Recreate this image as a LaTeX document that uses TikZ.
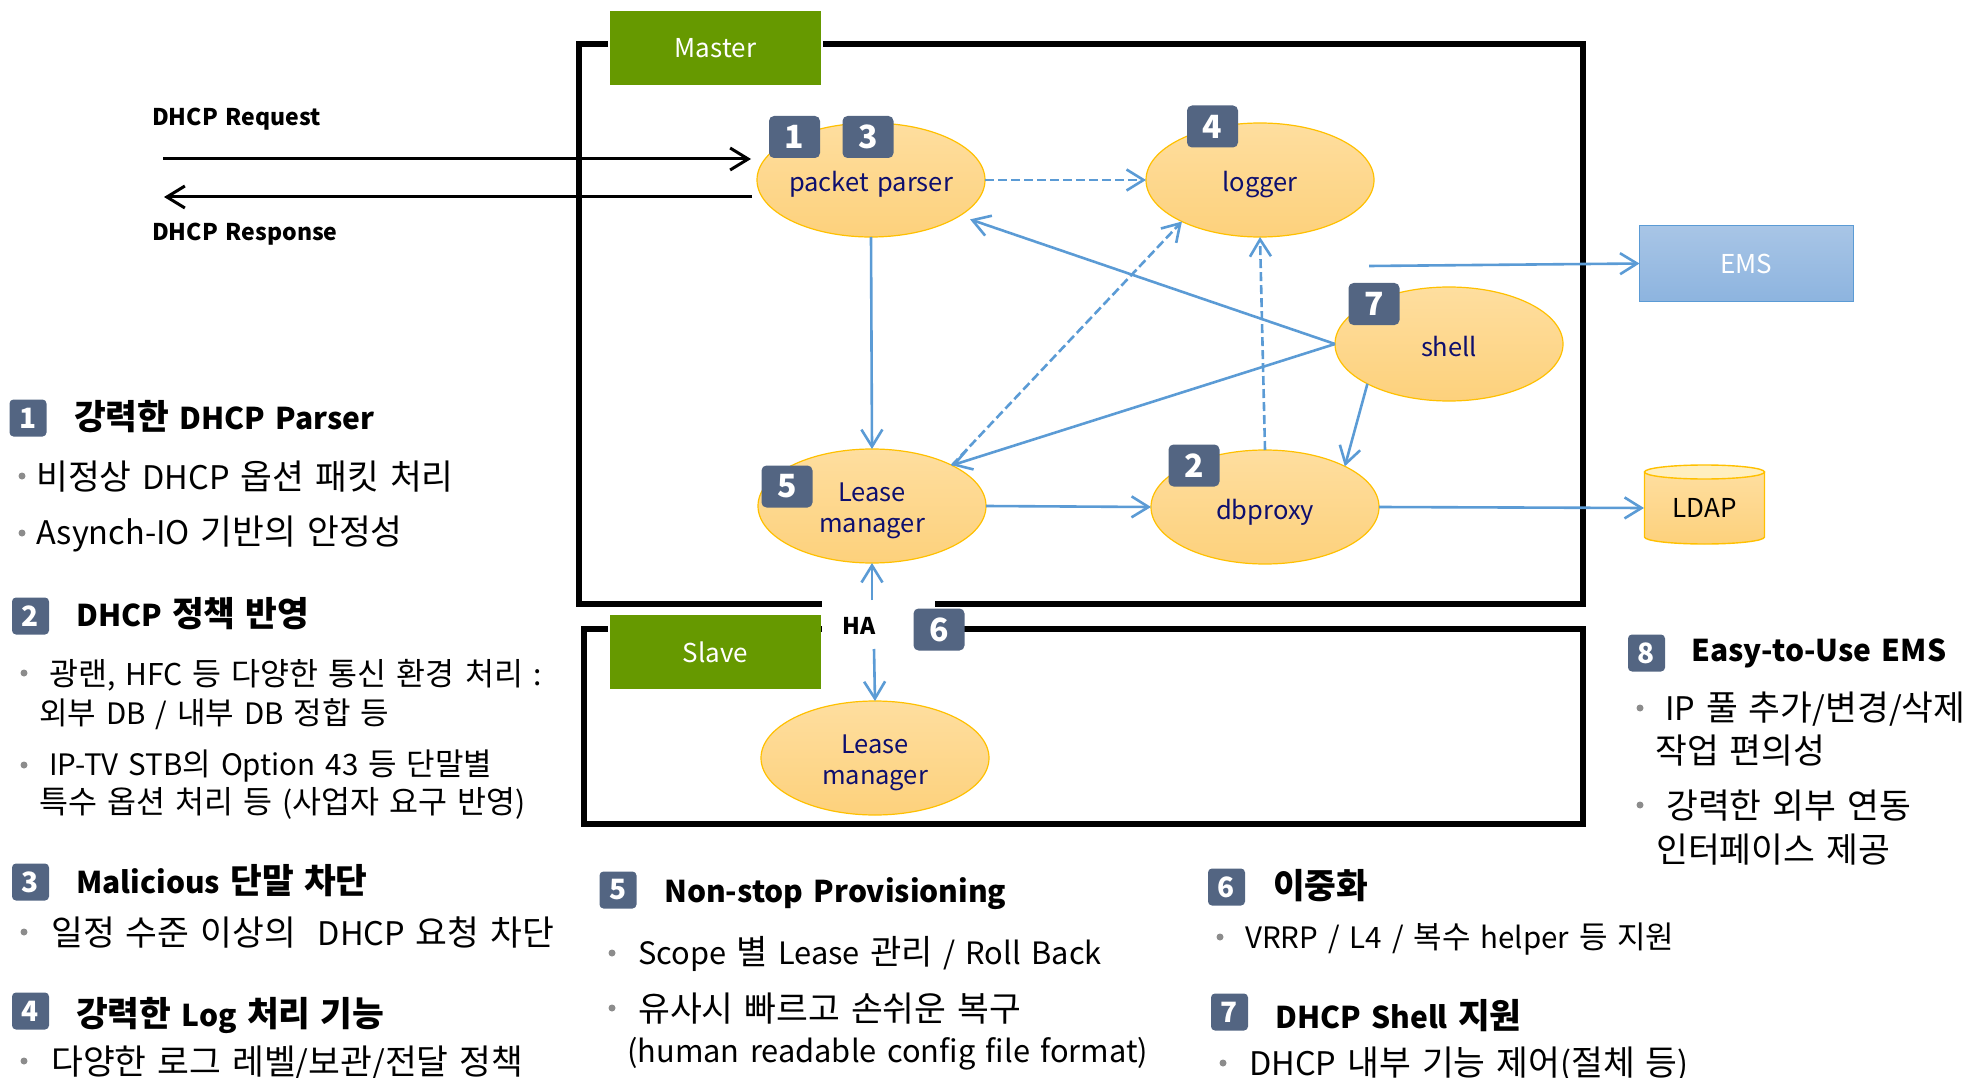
\documentclass[tikz,border=0pt]{standalone}
\usepackage{fontspec}
\setmainfont[WordSpace=1.5]{Noto Sans CJK KR}
\usetikzlibrary{arrows.meta,shapes.geometric}
\definecolor{leaf}{HTML}{669900}
\definecolor{slate}{HTML}{536582}
\definecolor{wire}{HTML}{5B9BD5}
\definecolor{navy}{HTML}{0E0F6E}
\definecolor{gold}{HTML}{FFC000}
\definecolor{peachtop}{HTML}{FEDE9F}
\definecolor{peachbot}{HTML}{FDD17C}
\definecolor{skytop}{HTML}{A8C5E6}
\definecolor{skybot}{HTML}{8DB4DF}
% Hangul is set larger than Latin, as in the reference's font
\newXeTeXintercharclass\hangulclass
\count255="AC00
\loop\ifnum\count255<"D7A4 \XeTeXcharclass\count255=\hangulclass \advance\count255 by 1 \repeat
\newcommand\hangulsize{12}
\newcommand\latinsize{12}
\newcommand\toHangul{\fontsize{\hangulsize}{\hangulsize}\selectfont}
\newcommand\toLatin{\fontsize{\latinsize}{\latinsize}\selectfont}
\XeTeXinterchartoks 0 \hangulclass={\toHangul}
\XeTeXinterchartoks 4095 \hangulclass={\toHangul}
\XeTeXinterchartoks \hangulclass 0={\toLatin}
\XeTeXinterchartoks \hangulclass 4095={\toLatin}
\newcommand\fs[1]{\fontsize{#1}{#1}\selectfont}
\newcommand\fss[2]{\XeTeXinterchartokenstate=1 \renewcommand\latinsize{#1}\renewcommand\hangulsize{#2}\fontsize{#1}{#1}\selectfont}
\tikzset{
  frame/.style={draw=black,line width=6pt},
  tag/.style={fill=leaf,text=white,inner sep=0,font=\fs{26}},
  proc/.style={ellipse,draw=gold,line width=1.2pt,top color=peachtop,bottom color=peachbot,minimum width=228pt,minimum height=114pt,inner sep=0,outer sep=0,text=navy,font=\fs{25.5},align=center},
  low/.style={text height=24pt,text depth=0pt},
  bigbadge/.style={fill=slate,rounded corners=5pt,text=white,inner sep=0,minimum width=51pt,minimum height=42pt,font=\fs{32}\bfseries},
  badge/.style={fill=slate,rounded corners=4pt,text=white,inner sep=0,minimum width=37pt,minimum height=37pt,font=\fs{28}\bfseries},
  flow/.style={draw=wire,line width=2.6pt,-{Straight Barb[length=17pt,width=21pt,line width=2.6pt]}},
  flowd/.style={flow,dash pattern=on 9pt off 4pt},
  blackflow/.style={draw=black,line width=3pt,-{Straight Barb[length=18pt,width=22pt,line width=3pt]}},
  head/.style={anchor=base west,inner sep=0,font=\fss{30}{34.5}\bfseries},
  body/.style={anchor=base west,inner sep=0,font=\fss{32.5}{34.6}},
  bodys/.style={anchor=base west,inner sep=0,font=\fss{30}{31.5}},
  bodym/.style={anchor=base west,inner sep=0,font=\fss{30.8}{34}},
  bodyt/.style={anchor=base west,inner sep=0,font=\fss{29.5}{31}},
  dot/.style={circle,fill=black!45,inner sep=0,minimum size=7pt},
  reqlabel/.style={anchor=base west,inner sep=0,font=\fs{23}\bfseries}
}
\begin{document}
\begin{tikzpicture}[x=1pt,y=-1pt]
\useasboundingbox (0,0) rectangle (1966,1078);
% frames
\draw[frame] (579,44) rectangle (1583,604);
\draw[frame] (584,629) rectangle (1583,824);
\fill[white] (608,30) rectangle (823,60);
\fill[white] (822,595) rectangle (935,660);
\fill[white] (822,612) rectangle (914,700);
\fill[white] (608,620) rectangle (610,640);
% tags
\node[tag,minimum width=211pt,minimum height=74pt] (master) at (715.5,48) {Master};
\node[tag,minimum width=211pt,minimum height=74pt] (slave) at (715.5,652) {Slave};
% processes
\node[proc,low] (pp) at (871,180) {\makebox[0pt]{packet parser}};
\node[proc,low] (log) at (1260,180) {logger};
\node[proc] (lm) at (872,506) {\rule{0pt}{28pt}Lease\\[6pt]manager};
\node[proc,low] (db) at (1265,507) {dbproxy};
\node[proc,low] (sh) at (1449,344) {shell};
\node[proc] (ls) at (875,758) {\rule{0pt}{28pt}Lease\\[6pt]manager};
% EMS and LDAP
\node[rectangle,draw=wire,line width=1.2pt,top color=skytop,bottom color=skybot,minimum width=214pt,minimum height=76pt,inner sep=0,outer sep=0,text=white,font=\fs{26}] (ems) at (1746.5,263.5) {EMS};
\path[draw=gold,line width=1.4pt,top color=peachtop,bottom color=peachbot] (1644.5,472) -- (1644.5,537) arc[start angle=180,end angle=0,x radius=60,y radius=7] -- (1764.5,472) -- cycle;
\path[draw=gold,line width=1.4pt,fill=gold!25] (1704.5,472) ellipse[x radius=60,y radius=7];
\node[rectangle,minimum width=121pt,minimum height=79pt,inner sep=0,outer sep=0,text=black,font=\fs{26}] (ldap) at (1704.5,508) {LDAP};
% free ends
\coordinate (reqfrom) at (163,159);
\coordinate (reqto) at (751,159);
\coordinate (respfrom) at (752,197);
\coordinate (respto) at (164,197);
\coordinate (emsfrom) at (1369,266);
\coordinate (hafrom) at (872,600);
\coordinate (hato) at (874,649);
% connectors
\draw[blackflow] (reqfrom) -- (reqto);
\draw[blackflow] (respfrom) -- (respto);
\draw[flowd] (pp.east) -- (log.west);
\draw[flow] (pp.south) -- (lm.north);
\draw[flow,shorten >=11pt] (sh.west) -- (pp.-22.5);
\draw[flow] (sh.west) -- (lm.27);
\draw[flowd] (lm.27) -- (log.208);
\draw[flow] (sh.206.6) -- (db.27.4);
\draw[flowd] (db.north) -- (log.south);
\draw[flow] (lm.east) -- (db.west);
\draw[flow] (db.east) -- (ldap.west);
\draw[flow] (emsfrom) -- (ems.west);
\draw[flow] (hafrom) -- (lm.south);
\draw[flow] (hato) -- (ls.north);
\node[inner sep=0,font=\fs{23}\bfseries] (ha) at (859,626) {HA};
% badges on the diagram
\node[bigbadge] (b1) at (794.5,137) {1};
\node[bigbadge] (b3) at (868,137) {3};
\node[bigbadge] (b4) at (1212.5,126.5) {4};
\node[bigbadge] (b7) at (1374,304) {7};
\node[bigbadge] (b5) at (787,486.5) {5};
\node[bigbadge] (b2) at (1194,465.5) {2};
\node[bigbadge] (b6) at (939,629.5) {6};
% request labels
\node[reqlabel] (lreq) at (152,125.5) {DHCP Request};
\node[reqlabel] (lresp) at (152,240.5) {DHCP Response};
% section 1
\node[badge] (s1) at (28,418) {1};
\node[head] (h1) at (74,429) {강력한 DHCP Parser};
\node[dot] (d11) at (22,476) {};
\node[body] (t11) at (36,489) {비정상 DHCP 옵션 패킷 처리};
\node[dot] (d12) at (22,533) {};
\node[body] (t12) at (36,544) {Asynch-IO 기반의 안정성};
% section 2
\node[badge] (s2) at (30.5,616) {2};
\node[head] (h2) at (76,626) {DHCP 정책 반영};
\node[dot] (d21) at (24,673) {};
\node[bodys] (t21) at (49,685) {광랜, HFC 등 다양한 통신 환경 처리 :};
\node[bodyt] (t22) at (39,724) {외부 DB / 내부 DB 정합 등};
\node[dot] (d22) at (24,765) {};
\node[bodyt] (t23) at (49,775) {IP-TV STB의 Option 43 등 단말별};
\node[bodys] (t24) at (39,813) {특수 옵션 처리 등 (사업자 요구 반영)};
% section 3
\node[badge] (s3) at (30.5,882) {3};
\node[head] (h3) at (76,893) {Malicious 단말 차단};
\node[dot] (d31) at (24,932) {};
\node[body] (t31) at (51,945) {일정 수준 이상의 \ DHCP 요청 차단};
% section 4
\node[badge] (s4) at (30.5,1011) {4};
\node[head] (h4) at (76,1026) {강력한 Log 처리 기능};
\node[dot] (d41) at (24,1061) {};
\node[body] (t41) at (51,1074) {다양한 로그 레벨/보관/전달 정책};
% section 5
\node[badge] (s5) at (618,890) {5};
\node[head] (h5) at (664,902) {Non-stop Provisioning};
\node[dot] (d51) at (612,953) {};
\node[bodym] (t51) at (638,964) {Scope 별 Lease 관리 / Roll Back};
\node[dot] (d52) at (612,1008) {};
\node[body] (t52) at (638,1021) {유사시 빠르고 손쉬운 복구};
\node[bodym] (t53) at (627,1062) {(human readable config file format)};
% section 6
\node[badge] (s6) at (1226.5,887) {6};
\node[head] (h6) at (1273,898) {이중화};
\node[dot] (d61) at (1220,937) {};
\node[bodyt] (t61) at (1245,948) {VRRP / L4 / 복수 helper 등 지원};
% section 7
\node[badge] (s7) at (1229.5,1012) {7};
\node[head] (h7) at (1275,1028) {DHCP Shell 지원};
\node[dot] (d71) at (1223,1063) {};
\node[body] (t71) at (1249,1075) {DHCP 내부 기능 제어(절체 등)};
% section 8
\node[badge] (s8) at (1646.5,653) {8};
\node[head] (h8) at (1691,661) {Easy-to-Use EMS};
\node[dot] (d81) at (1640,708) {};
\node[body] (t81) at (1665,720) {IP 풀 추가/변경/삭제};
\node[body] (t82) at (1655,763) {작업 편의성};
\node[dot] (d82) at (1640,805) {};
\node[body] (t83) at (1666,818) {강력한 외부 연동};
\node[body] (t84) at (1656,862) {인터페이스 제공};
\end{tikzpicture}
\end{document}
